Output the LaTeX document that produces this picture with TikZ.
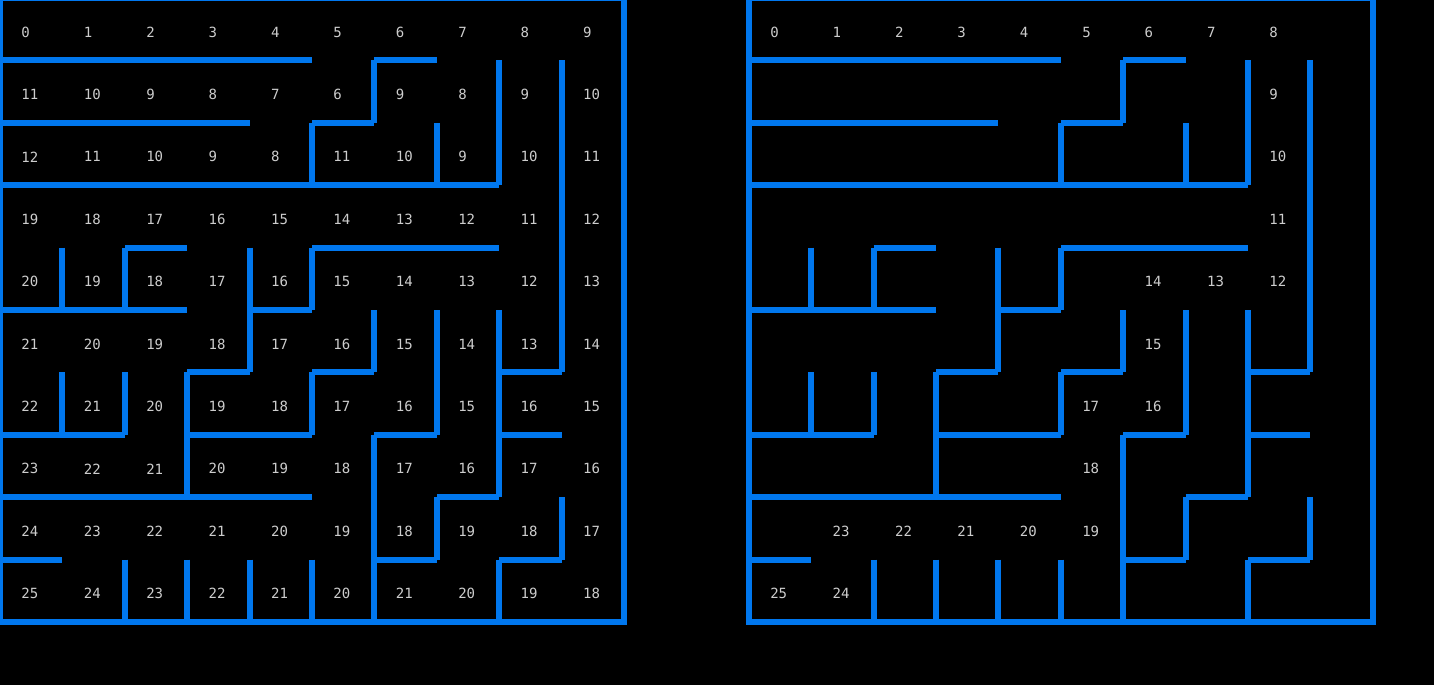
\documentclass[tikz,border=0pt]{standalone}
\usepackage{fontspec}
\newfontfamily\cellfont{DejaVu Sans Mono}
\definecolor{wallblue}{RGB}{0,119,238}
\definecolor{cellgray}{RGB}{205,205,205}
\begin{document}
\begin{tikzpicture}[x=1cm, y=-1cm,
  wall/.style={wallblue, line width=2.73pt},
  num/.style={anchor=west, inner sep=0pt, text=cellgray, font=\cellfont\fontsize{6.4}{7}\selectfont}]
  \fill[black] (0,0.032) rectangle (22.981,11.010);
  \useasboundingbox (0,0.032) rectangle (22.981,11.010);
  % the same maze twice, side by side
  \foreach \ox in {0,12} {
    \draw[wall] (\ox,0) rectangle (\ox+10,10);
    \foreach \j/\a/\b in {1/0/5, 1/6/7, 2/0/4, 2/5/6, 3/0/8, 4/2/3, 4/5/8, 5/0/3, 5/4/5,
        6/3/4, 6/5/6, 6/8/9, 7/0/2, 7/3/5, 7/6/7, 7/8/9, 8/0/5, 8/7/8, 9/0/1, 9/6/7, 9/8/9}
      \draw[wall] (\ox+\a,\j) -- (\ox+\b,\j);
    \foreach \i/\a/\b in {1/4/5, 1/6/7, 2/4/5, 2/6/7, 2/9/10, 3/6/8, 3/9/10, 4/4/6, 4/9/10,
        5/2/3, 5/4/5, 5/6/7, 5/9/10, 6/1/2, 6/5/6, 6/7/10, 7/2/3, 7/5/7, 7/8/9,
        8/1/3, 8/5/8, 8/9/10, 9/1/6, 9/8/9}
      \draw[wall] (\ox+\i,\a) -- (\ox+\i,\b);
  }
  % distances from the start, every cell
  \foreach \row [count=\r from 0] in {{0,1,2,3,4,5,6,7,8,9}, {11,10,9,8,7,6,9,8,9,10},
      {12,11,10,9,8,11,10,9,10,11}, {19,18,17,16,15,14,13,12,11,12},
      {20,19,18,17,16,15,14,13,12,13}, {21,20,19,18,17,16,15,14,13,14},
      {22,21,20,19,18,17,16,15,16,15}, {23,22,21,20,19,18,17,16,17,16},
      {24,23,22,21,20,19,18,19,18,17}, {25,24,23,22,21,20,21,20,19,18}}
    \foreach \n [count=\c from 0] in \row
      \node[num] (dist-\r-\c) at (\c+0.337,\r+0.545) {\n};
  % the shortest path only
  \foreach \c/\r/\n in {0/0/0, 1/0/1, 2/0/2, 3/0/3, 4/0/4, 5/0/5, 6/0/6, 7/0/7, 8/0/8,
      8/1/9, 8/2/10, 8/3/11, 8/4/12, 7/4/13, 6/4/14, 6/5/15, 6/6/16, 5/6/17, 5/7/18,
      5/8/19, 4/8/20, 3/8/21, 2/8/22, 1/8/23, 1/9/24, 0/9/25}
    \node[num] (path-\r-\c) at (12+\c+0.337,\r+0.545) {\n};
\end{tikzpicture}
\end{document}
